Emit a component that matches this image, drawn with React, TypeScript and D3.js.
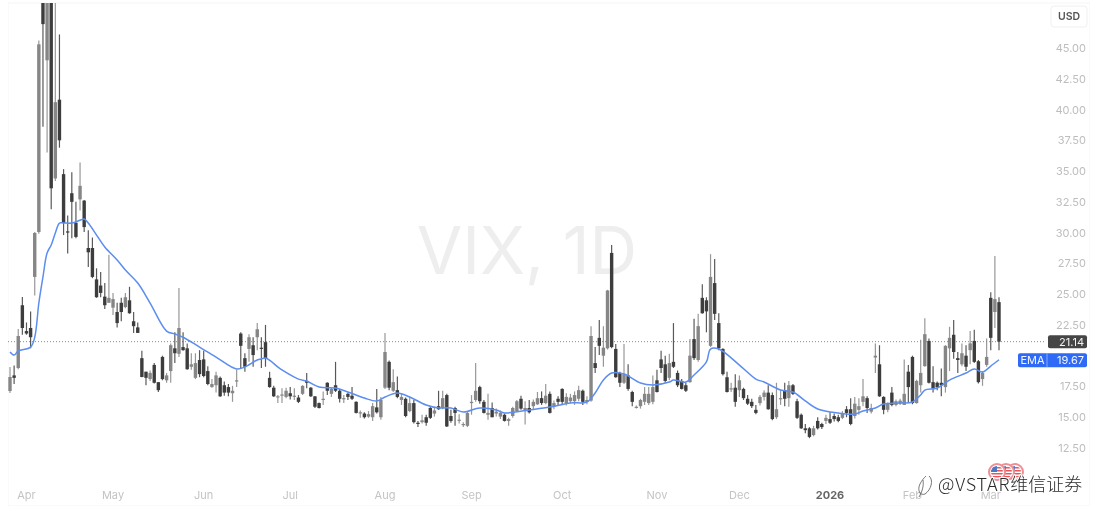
import React from "react";
import * as d3 from "d3";

const opens = [
  17.13,18.4,19.0,24.1,22.0,22.25,26.4,30.05,52,44.0,
  50,34.4,40.8,34.75,30.1,33.2,30.8,32.7,32.6,28.75,
  28.75,26.2,25.7,24.8,24.3,23.9,23.55,24.3,23.95,24.5,
  22.8,22.3,19.8,18.7,18.1,19.25,17.85,19.9,18.0,18.75,
  20.6,20.15,20.7,20.6,19.1,18.2,19.65,19.7,18.75,17.45,
  17.6,18.2,17.6,17.45,16.95,17.9,21.8,19.8,20.55,20.85,
  21.5,20.65,21.1,18.2,17.4,16.65,16.75,16.65,16.95,16.7,
  16.6,16.9,17.95,17.4,16.7,16.15,16.4,17.8,16.9,17.6,
  17.15,16.5,16.9,16.75,16.25,15.35,15.3,15.05,15.0,15.8,
  15.0,17.4,19.5,17.15,17.2,16.4,16.5,15.5,16.15,14.55,
  14.6,15.0,15.75,15.3,15.9,15.75,16.8,15.1,15.75,14.75,
  14.4,14.3,16.15,16.4,17.45,16.25,15.2,15.75,15.3,15.05,
  15.2,14.7,15.1,15.5,16.5,15.5,15.75,15.9,16.05,16.55,
  16.15,16.9,15.85,16.5,17.3,16.15,16.3,16.3,16.5,17.15,
  16.25,16.35,19.4,21.45,20.0,20.6,28.35,20.55,18.6,17.8,
  18.4,17.05,15.8,15.9,16.25,16.15,16.25,18.0,19.7,19.3,
  18.2,19.5,18.6,17.95,17.6,17.85,21.35,19.65,24.7,24.5,
  20.8,25.9,22.65,20.55,18.25,17.25,17.4,17.2,17.3,16.5,
  16.25,15.6,16.15,16.65,17.0,16.8,15.0,16.5,17.2,16.55,
  17.6,16.3,15.2,14.1,14.1,13.55,14.7,14.45,14.7,14.85,
  15.1,15.0,14.95,15.65,15.65,15.1,15.6,16.25,16.55,15.45,
  19.85,19.3,16.65,15.6,17.0,16.0,16.1,16.0,18.7,19.9,
  16.15,17.6,19.15,21.2,17.85,17.8,17.8,17.45,20.6,21.7,
  19.8,19.3,20.0,20.45,21.2,19.55,18.1,19.25,24.7,23.55,
  24.35,
];
const closes = [
  18.27,18.2,21.6,22.25,21.8,21.5,29.97,45.3,46.94,52,
  33.6,40.6,37.5,30.78,30.05,32.5,29.65,33.8,30.45,28.4,
  26.4,24.75,25.1,24.1,24.7,24.6,22.65,23.55,24.75,23.45,
  22.4,21.85,18.27,18.2,18.6,17.8,17.2,18.1,18.4,20.85,
  20.2,22.25,20.45,18.9,19.3,19.4,18.5,18.35,17.7,17.7,
  18.4,16.7,17.0,17.0,17.15,18.0,20.8,19.1,21.5,20.05,
  22.15,20.55,19.8,17.45,16.7,16.7,16.85,17.15,16.7,16.75,
  16.25,17.55,17.8,16.7,15.85,15.75,16.5,17.15,17.3,17.15,
  16.5,16.55,16.65,16.5,15.35,15.4,15.0,15.25,15.9,15.4,
  16.4,20.3,17.4,17.85,16.65,16.65,15.1,16.15,14.6,14.45,
  14.75,14.55,14.95,15.55,15.65,16.55,14.25,14.7,15.35,14.8,
  14.45,15.35,16.25,17.15,16.3,15.35,15.35,15.0,15.45,15.35,
  14.7,14.85,15.75,16.3,15.7,15.75,15.4,16.25,16.55,16.15,
  16.75,15.35,16.15,16.25,16.25,16.65,16.6,16.8,17.2,16.25,
  16.4,21.6,19.0,20.8,20.65,25.3,20.7,18.25,17.8,18.5,
  17.3,16.25,15.85,16.4,16.9,16.9,17.45,17.05,19.0,17.95,
  19.4,19.1,17.6,17.3,17.15,20.0,19.8,22.4,23.45,23.6,
  26.4,23.4,20.6,18.5,17.05,17.35,16.25,18.0,16.55,16.1,
  15.9,15.35,16.65,17.0,15.65,14.85,15.65,16.55,16.5,17.6,
  16.9,14.95,14.1,13.95,13.4,14.1,14.1,14.2,14.95,14.55,
  14.85,14.7,15.35,15.35,14.45,16.1,15.9,16.7,15.75,15.75,
  20.0,16.7,15.6,16.1,16.0,16.3,16.35,16.9,17.45,16.15,
  17.95,18.6,21.75,17.8,17.35,17.45,17.6,20.8,21.45,20.3,
  19.65,20.2,19.1,21.0,19.5,17.85,18.6,19.9,21.45,24.6,
  21.14,
];
const highs = [
  19.08,19.2,22.17,24.77,22.7,23.6,30.05,45.6,60,55,
  55,50,46.1,35.16,31.4,34.9,32.5,35.7,32.65,30.2,
  29.6,27.1,26.8,25.9,28.2,25.1,24.3,24.7,25.1,25.6,
  23.55,22.7,20.4,18.7,18.8,19.4,17.85,20.0,18.6,21.0,
  21.9,25.5,21.9,21.0,20.2,20.2,20.45,20.4,19.15,18.1,
  18.7,18.3,17.9,17.7,17.55,18.85,21.9,20.2,21.75,21.5,
  22.65,21.5,22.5,18.7,17.55,16.8,17.35,17.4,17.45,17.35,
  16.8,17.6,18.6,17.45,16.7,16.2,17.1,17.85,17.4,19.5,
  17.3,16.8,17.0,17.45,16.3,15.55,15.4,15.5,16.15,17.3,
  16.65,21.85,19.6,18.9,18.3,16.9,16.6,16.65,16.4,14.7,
  15.2,15.2,15.9,15.85,17.15,17.15,16.9,15.6,15.85,15.25,
  14.6,15.45,16.8,19.4,17.55,16.4,16.9,16.2,15.7,15.55,
  15.3,14.95,15.85,16.4,16.75,16.3,16.4,16.45,17.05,17.1,
  17.7,17.1,16.35,16.7,17.35,16.95,16.9,17.1,17.55,17.25,
  16.7,22.4,20.7,22.9,22.4,25.35,29.0,20.95,18.7,20.95,
  19.3,17.15,15.95,16.5,17.45,17.45,18.4,18.85,20.4,20.0,
  20.15,22.65,18.8,18.1,17.8,21.35,23.0,23.4,25.8,24.75,
  28.25,27.85,23.45,20.6,18.7,17.8,18.5,18.4,17.4,16.8,
  16.5,16.0,16.8,17.2,17.6,17.0,17.8,17.2,17.8,17.95,
  17.7,16.5,15.3,14.45,14.2,14.3,15.0,14.55,15.2,15.4,
  15.3,15.2,15.5,15.9,16.55,16.65,16.55,18.1,16.7,16.1,
  21.0,20.85,16.7,16.2,17.45,16.45,16.5,19.7,19.25,20.0,
  18.05,21.3,23.05,21.4,19.15,17.9,18.95,20.85,22.35,22.9,
  20.3,21.0,20.85,22.0,22.1,19.65,18.75,21.4,25.15,28.1,
  24.75,
];
const lows = [
  16.97,17.7,18.9,21.7,21.7,20.6,24.9,29.9,38.6,36.5,
  31.9,34.2,36.9,29.8,28.3,29.55,29.55,31.8,30.05,27.2,
  26.3,24.7,24.75,23.8,24.3,23.3,22.3,22.8,23.85,23.4,
  21.85,21.85,18.25,17.6,17.95,17.75,17.05,18.0,17.8,17.8,
  19.4,19.9,20.4,18.85,18.85,18.1,18.25,18.25,17.6,17.4,
  17.0,16.65,16.75,16.7,16.25,17.45,19.0,18.7,19.5,19.1,
  20.45,19.0,19.1,17.4,16.65,16.15,16.15,16.55,16.45,16.4,
  16.15,16.8,17.35,16.65,15.75,15.7,16.0,16.8,16.65,17.05,
  16.2,16.15,16.4,16.4,15.3,14.95,14.9,14.95,14.7,15.3,
  14.8,17.3,17.2,17.05,16.55,16.0,15.0,15.4,14.5,14.2,
  14.5,14.3,14.85,15.05,15.6,15.65,14.2,14.55,14.3,14.5,
  14.2,14.2,15.2,16.25,16.1,15.3,14.8,15.0,15.05,14.85,
  14.65,14.3,14.95,15.4,15.6,14.4,15.3,15.6,16.0,16.0,
  16.05,15.3,15.65,16.0,16.0,15.95,16.15,16.0,16.3,16.0,
  16.05,16.25,18.6,20.05,19.1,20.5,20.6,18.2,17.45,17.7,
  17.15,15.9,15.7,15.7,16.0,16.0,16.05,17.0,18.6,17.8,
  18.0,19.0,17.45,17.25,17.05,17.8,19.65,19.5,23.4,21.9,
  20.7,22.9,20.45,18.4,17.0,17.05,15.85,16.65,16.4,16.0,
  15.75,15.25,15.95,16.35,15.6,14.75,14.85,16.0,15.9,15.85,
  16.8,14.85,14.05,13.7,13.3,13.45,14.0,14.05,14.45,14.45,
  14.65,14.6,14.85,15.0,14.35,14.9,15.2,15.9,15.35,15.3,
  18.6,16.65,15.25,15.4,15.9,15.9,16.0,16.0,16.15,16.05,
  16.1,17.0,19.1,17.75,17.0,17.2,16.7,17.0,18.75,19.75,
  18.6,19.15,18.75,19.3,19.4,17.75,17.55,19.1,20.45,22.25,
  20.45,
];

const emaDays = [
  0,1,2,5,6,7,8,9,10,11,12,13,15,17,18,19,21,23,26,28,31,34,38,40,42,46,50,55,57,60,
  61,62,66,70,72,75,79,82,86,89,91,94,97,101,104,107,110,114,118,120,123,126,131,136,140,
  142,144,146,149,153,156,160,161,164,166,169,170,172,177,181,183,187,190,193,196,201,205,
  207,210,212,216,219,221,222,225,228,232,234,236,238,240,
];
const emaValues = [
  20.3,20.05,20.38,20.7,21.5,24.28,26.4,28.34,29.0,29.96,30.78,30.78,30.78,31.0,31.1,30.78,29.8,28.83,27.77,26.96,25.9,24.28,22.0,21.76,21.5,20.7,19.89,18.92,19.08,19.65,
  19.73,19.81,18.84,18.1,17.94,17.46,17.37,17.05,16.56,16.32,16.64,16.97,16.64,15.99,15.75,15.75,15.42,15.75,15.59,15.34,15.45,15.59,15.83,16.16,16.24,
  16.97,18.02,18.59,18.51,17.78,17.62,17.86,18.02,17.86,18.43,19.49,20.54,20.54,19.24,18.1,17.86,17.21,17.05,16.32,15.67,15.34,15.26,
  15.5,15.75,16.07,16.16,16.24,16.81,17.21,17.37,18.02,18.59,18.92,18.67,19.16,19.67,
];

const priceTicks = [12.5,15,17.5,22.5,25,27.5,30,32.5,35,37.5,40,42.5,45];
const monthLabels = ["Apr","May","Jun","Jul","Aug","Sep","Oct","Nov","Dec","2026","Feb","Mar"];
const monthDays = [4,25,47,68,91,112,134,157,177,199,219,238];
const lastPrice = 21.14;
const lastEma = 19.67;

const DARK = "#3d3d3d";
const GREY = "#868686";
const FONT = "Inter, Roboto, sans-serif";

const x = d3.scaleLinear().domain([0, 240]).range([10, 999]);
const y = d3.scaleLinear().domain([12.5, 45]).range([448, 48]);

const emaPath = d3
  .line<number>()
  .x((d) => x(d))
  .y((_, i) => y(emaValues[i]))
  .curve(d3.curveCatmullRom.alpha(0.5))(emaDays) as string;

function Flag({ cx, cy, id }: { cx: number; cy: number; id: string }) {
  return (
    <g>
      <clipPath id={id}><circle cx={cx} cy={cy} r={6} /></clipPath>
      <circle cx={cx} cy={cy} r={8} fill="#fff" stroke="#ee8f93" strokeWidth={2} />
      <g clipPath={`url(#${id})`}>
        {[-5, -2, 1, 4].map((d) => (
          <rect key={d} x={cx - 7} y={cy + d} width={14} height={1.5} fill="#e8555b" />
        ))}
        <rect x={cx - 7} y={cy - 6} width={7} height={6} fill="#4d78c8" />
      </g>
    </g>
  );
}

export default function App() {
  return (
    <svg
      width={1100}
      height={520}
      style={{ position: "absolute", left: 0, top: 0, display: "block", background: "#fff" }}
    >
      <defs>
        <filter id="soft" x="0" y="0" width="100%" height="100%">
          <feGaussianBlur stdDeviation={0.65} />
        </filter>
        <clipPath id="pane"><rect x={8} y={3} width={1040} height={500} /></clipPath>
      </defs>
      <g filter="url(#soft)">
        <rect x={8} y={3} width={1082} height={503} fill="#fff" stroke="#f5f5f5" />
        <text x={527} y={274} textAnchor="middle" fontFamily={FONT} fontSize={66} fill="#eeeeee">VIX, 1D</text>

        <line x1={8} x2={1046} y1={y(lastPrice)} y2={y(lastPrice)} stroke="#8a8a8a" strokeWidth={1} strokeDasharray="1 2" />

        <g clipPath="url(#pane)">
          {opens.map((o, i) => {
            const c = closes[i];
            const col = c >= o ? GREY : DARK;
            const top = y(Math.max(o, c));
            const h = Math.max(1.2, Math.abs(y(o) - y(c)));
            return (
              <g key={i}>
                <line x1={x(i)} x2={x(i)} y1={y(highs[i])} y2={y(lows[i])} stroke={col} strokeWidth={1.2} opacity={0.85} />
                <rect x={x(i) - 1.7} y={top} width={3.4} height={h} fill={col} />
              </g>
            );
          })}
          <path d={emaPath} fill="none" stroke="#5b8def" strokeWidth={1.5} />
        </g>

        <rect x={1051} y={6} width={36} height={21} rx={3} fill="#fff" stroke="#f0f0f0" />
        <text x={1069} y={20} textAnchor="middle" fontFamily={FONT} fontSize={10.5} fontWeight={600} fill="#555">USD</text>

        {priceTicks.map((t) => (
          <text key={t} x={1086} y={y(t) + 4} textAnchor="end" fontFamily={FONT} fontSize={11} fill="#bdbdbd">{t.toFixed(2)}</text>
        ))}

        <rect x={1048} y={y(lastPrice) - 6.5} width={39} height={13} rx={2} fill="#454545" />
        <text x={1084} y={y(lastPrice) + 4} textAnchor="end" fontFamily={FONT} fontSize={11} fill="#f2f2f2">{lastPrice.toFixed(2)}</text>

        <rect x={1018} y={y(lastEma) - 6.5} width={69} height={14} rx={2} fill="#2f6bf5" />
        <line x1={1047} x2={1047} y1={y(lastEma) - 6.5} y2={y(lastEma) + 7.5} stroke="#9dbaf9" strokeWidth={0.8} />
        <text x={1032.5} y={y(lastEma) + 4.5} textAnchor="middle" fontFamily={FONT} fontSize={11} fill="#f2f6ff">EMA</text>
        <text x={1084} y={y(lastEma) + 4.5} textAnchor="end" fontFamily={FONT} fontSize={11} fill="#f2f6ff">{lastEma.toFixed(2)}</text>

        {monthLabels.map((m, i) => (
          <text
            key={m}
            x={x(monthDays[i])}
            y={499}
            textAnchor="middle"
            fontFamily={FONT}
            fontSize={11}
            fontWeight={m === "2026" ? 700 : 400}
            fill={m === "2026" ? "#666" : "#c4c4c4"}
          >{m}</text>
        ))}

        <Flag cx={1015} cy={472} id="f3" />
        <Flag cx={1006} cy={472} id="f2" />
        <Flag cx={997} cy={472} id="f1" />

        <path
          d="M 929 476 C 934 480 931 490 925 494 C 920 496 917 490 920 484 C 922 480 924 478 926 476 M 923 480 C 924 486 922 492 919 497"
          fill="none"
          stroke="#555"
          strokeWidth={0.8}
        />
        <text
          x={938}
          y={491}
          fontFamily="'Noto Sans CJK SC', 'Noto Sans', sans-serif"
          fontSize={18}
          fontWeight={300}
          fill="#2a2a2a"
          stroke="#fff"
          strokeWidth={2}
          paintOrder="stroke"
        ><tspan letterSpacing={0.8}>@VSTAR</tspan><tspan>维信证券</tspan></text>
      </g>
    </svg>
  );
}
